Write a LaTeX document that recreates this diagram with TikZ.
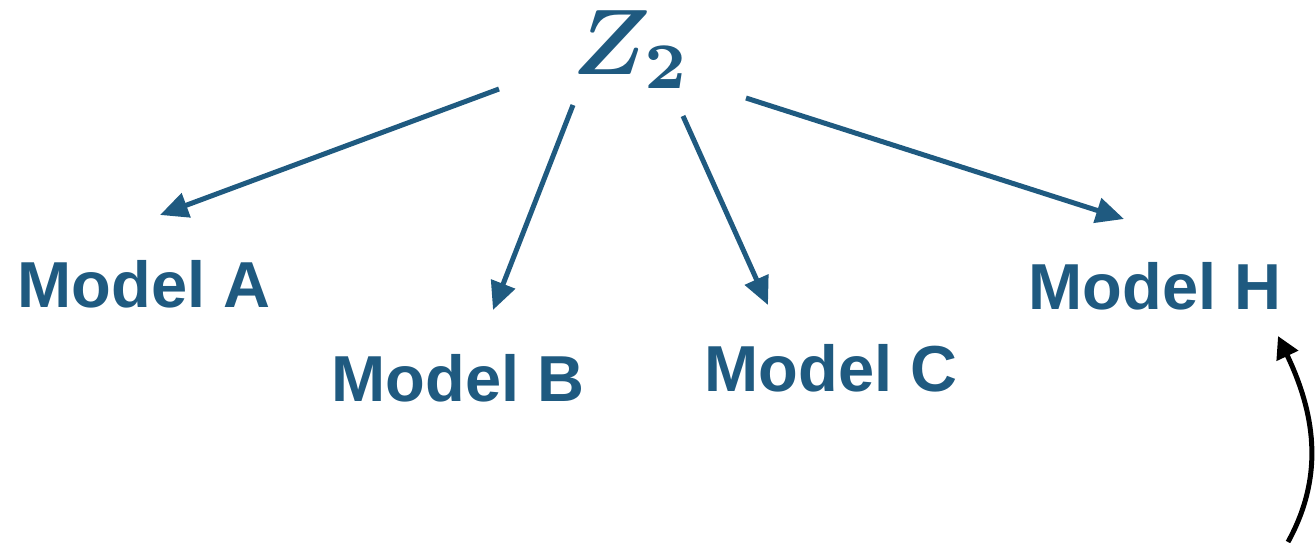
\documentclass[tikz,border=0pt]{standalone}
\usepackage{bm}
\usepackage{fontspec}
\setmainfont{Liberation Sans}
\usetikzlibrary{arrows.meta}
\definecolor{modelblue}{HTML}{1F5A80}
\tikzset{
  model/.style={text=modelblue, font=\fontsize{65}{65}\selectfont\bfseries, inner sep=0pt, anchor=center},
  blue arrow/.style={draw=modelblue, line width=5pt, -{Triangle[length=28pt,width=25pt]}},
  black arrow/.style={draw=black, line width=5pt, -{Triangle[length=22pt,width=23pt]}}
}
\begin{document}
\begin{tikzpicture}[x=1pt,y=-1pt]
\useasboundingbox (0,0) rectangle (1315,542);
\node[text=modelblue, scale=9.3, inner sep=0pt] (z2) at (632,50) {$\bm{Z_2}$};
\node[model] (ma) at (144,284) {Model A};
\node[model] (mb) at (458,378) {Model B};
\node[model] (mc) at (831,368) {Model C};
\node[model] (mh) at (1155,286) {Model H};
\coordinate (s1) at (499,89);
\coordinate (e1) at (160,215);
\coordinate (s2) at (573,105);
\coordinate (e2) at (493,310);
\coordinate (s3) at (683,116);
\coordinate (e3) at (768,305);
\coordinate (s4) at (746,98);
\coordinate (e4) at (1124,219);
\coordinate (cs) at (1288,542);
\coordinate (ce) at (1278,336);
\draw[blue arrow] (s1) -- (e1);
\draw[blue arrow] (s2) -- (e2);
\draw[blue arrow] (s3) -- (e3);
\draw[blue arrow] (s4) -- (e4);
\draw[black arrow] (cs) .. controls (1322,480) and (1318,420) .. (ce);
\end{tikzpicture}
\end{document}
